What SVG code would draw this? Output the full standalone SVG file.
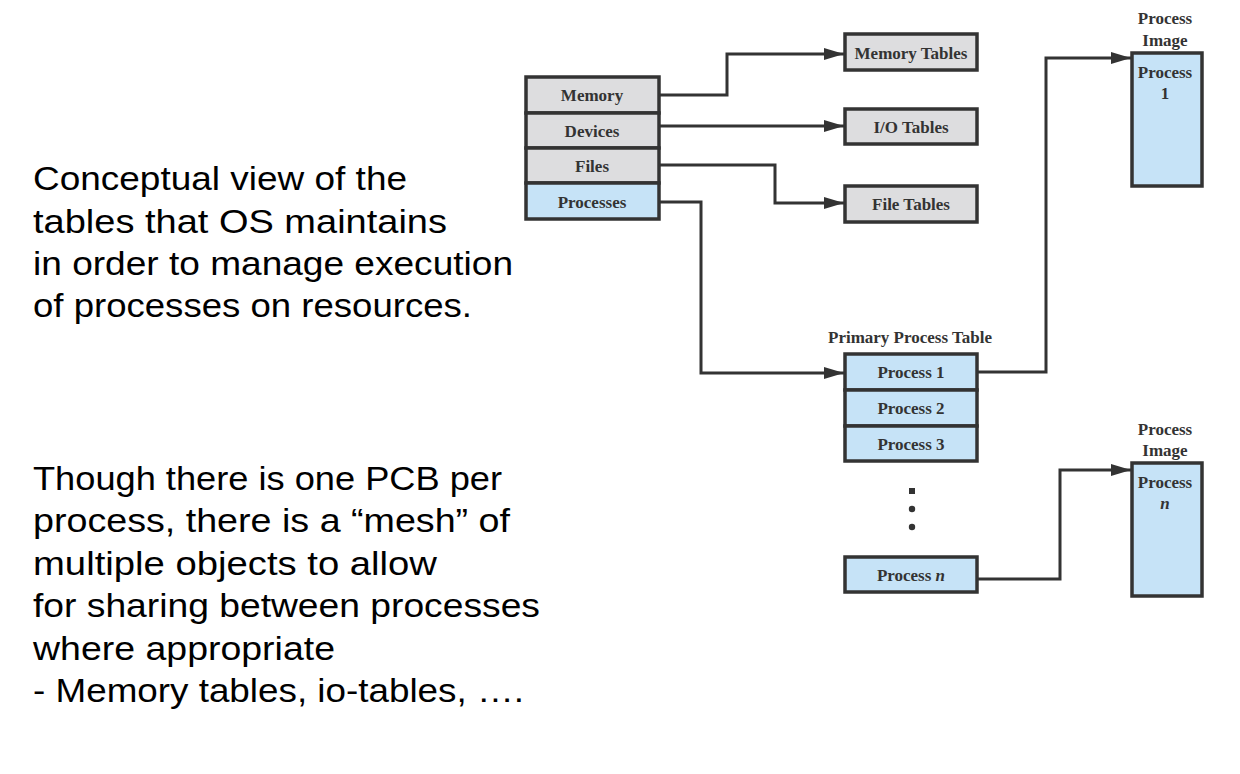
<svg xmlns="http://www.w3.org/2000/svg" width="1240" height="774" viewBox="0 0 1240 774">
<style>
.box{stroke:#333;stroke-width:3.5}
.grey{fill:#dddddf}
.blue{fill:#c6e3f7}
.lbl{font-family:"Liberation Serif","Times New Roman",serif;font-weight:bold;font-size:17px;fill:#333;text-anchor:middle}
.note{font-family:"Liberation Sans",Arial,sans-serif;font-size:34px;fill:#000}
.conn{fill:none;stroke:#333;stroke-width:3}
</style>
<defs>
<marker id="arr" viewBox="0 0 20 12" refX="20" refY="6" markerWidth="20" markerHeight="12" markerUnits="userSpaceOnUse" orient="auto">
<path d="M0,0 L20,6 L0,12 z" fill="#333"/>
</marker>
</defs>
<rect width="1240" height="774" fill="#fff"/>

<g id="notes">
<text class="note" x="33" y="190" textLength="374" lengthAdjust="spacingAndGlyphs">Conceptual view of the</text>
<text class="note" x="33" y="233" textLength="414" lengthAdjust="spacingAndGlyphs">tables that OS maintains</text>
<text class="note" x="33" y="275" textLength="480" lengthAdjust="spacingAndGlyphs">in order to manage execution</text>
<text class="note" x="33" y="317" textLength="439" lengthAdjust="spacingAndGlyphs">of processes on resources.</text>
<text class="note" x="33" y="490" textLength="469" lengthAdjust="spacingAndGlyphs">Though there is one PCB per</text>
<text class="note" x="33" y="532" textLength="477" lengthAdjust="spacingAndGlyphs">process, there is a “mesh” of</text>
<text class="note" x="33" y="575" textLength="404" lengthAdjust="spacingAndGlyphs">multiple objects to allow</text>
<text class="note" x="33" y="617" textLength="507" lengthAdjust="spacingAndGlyphs">for sharing between processes</text>
<text class="note" x="33" y="660" textLength="302" lengthAdjust="spacingAndGlyphs">where appropriate</text>
<text class="note" x="33" y="702" textLength="491" lengthAdjust="spacingAndGlyphs">- Memory tables, io-tables, ….</text>
</g>

<g id="connectors">
<polyline class="conn" points="660,95 727,95 727,54 844,54" marker-end="url(#arr)"/>
<polyline class="conn" points="660,126 844,126" marker-end="url(#arr)"/>
<polyline class="conn" points="660,165 775,165 775,203 844,203" marker-end="url(#arr)"/>
<polyline class="conn" points="660,202 701,202 701,373 844,373" marker-end="url(#arr)"/>
<polyline class="conn" points="978,372 1046,372 1046,58 1131,58" marker-end="url(#arr)"/>
<polyline class="conn" points="978,579 1060,579 1060,470 1131,470" marker-end="url(#arr)"/>
</g>

<g id="resource-table">
<rect class="box grey" x="526" y="77" width="133" height="36"/>
<text class="lbl" x="592" y="101">Memory</text>
<rect class="box grey" x="526" y="113" width="133" height="35"/>
<text class="lbl" x="592" y="137">Devices</text>
<rect class="box grey" x="526" y="148" width="133" height="35"/>
<text class="lbl" x="592" y="172">Files</text>
<rect class="box blue" x="526" y="183" width="133" height="36"/>
<text class="lbl" x="592" y="208">Processes</text>
</g>

<g id="memory-tables">
<rect class="box grey" x="845" y="34" width="132" height="36"/>
<text class="lbl" x="911" y="59">Memory Tables</text>
</g>
<g id="io-tables">
<rect class="box grey" x="845" y="109" width="132" height="35"/>
<text class="lbl" x="911" y="133">I/O Tables</text>
</g>
<g id="file-tables">
<rect class="box grey" x="845" y="186" width="132" height="36"/>
<text class="lbl" x="911" y="210">File Tables</text>
</g>

<g id="primary-process-table">
<text class="lbl" x="910" y="343">Primary Process Table</text>
<rect class="box blue" x="845" y="354" width="132" height="36"/>
<text class="lbl" x="911" y="378">Process 1</text>
<rect class="box blue" x="845" y="390" width="132" height="36"/>
<text class="lbl" x="911" y="414">Process 2</text>
<rect class="box blue" x="845" y="426" width="132" height="35"/>
<text class="lbl" x="911" y="450">Process 3</text>
<rect x="909" y="488" width="6" height="6" fill="#333"/>
<circle cx="912" cy="509" r="3.2" fill="#333"/>
<circle cx="912" cy="527" r="3.2" fill="#333"/>
<rect class="box blue" x="845" y="557" width="132" height="35"/>
<text class="lbl" x="911" y="581">Process <tspan font-style="italic">n</tspan></text>
</g>

<g id="process-image-1">
<text class="lbl" x="1165" y="24">Process</text>
<text class="lbl" x="1165" y="46">Image</text>
<rect class="box blue" x="1132" y="53" width="70" height="133"/>
<text class="lbl" x="1165" y="78">Process</text>
<text class="lbl" x="1165" y="99">1</text>
</g>

<g id="process-image-n">
<text class="lbl" x="1165" y="435">Process</text>
<text class="lbl" x="1165" y="456">Image</text>
<rect class="box blue" x="1132" y="463" width="70" height="133"/>
<text class="lbl" x="1165" y="488">Process</text>
<text class="lbl" x="1165" y="509" font-style="italic">n</text>
</g>
</svg>
